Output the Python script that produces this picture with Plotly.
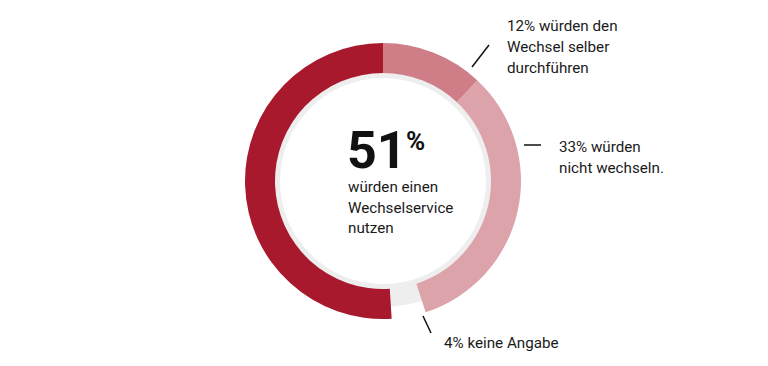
import plotly.graph_objects as go

W, H = 768, 366
OFF = 8  # page body margin offset of the figure inside the window

# data
labels = ["würden den Wechsel selber durchführen", "würden nicht wechseln.", "keine Angabe", "würden einen Wechselservice nutzen"]
values = [12, 33, 4, 51]
headline_value = "51"
center_lines = ["würden einen", "Wechselservice", "nutzen"]
label_12 = ["12% würden den", "Wechsel selber", "durchführen"]
label_33 = ["33% würden", "nicht wechseln."]
label_4 = ["4% keine Angabe"]

colors = ["#cf7e88", "#dda3aa", "rgba(0,0,0,0)", "#a8192e"]

cx, cy = 383, 181
R_out, R_in = 138, 108
G_out, G_in = 126, 103


def px(x):
    return (x - OFF) / W


def py(y):
    return 1 - (y - OFF) / H


def dom(r):
    return dict(x=[px(cx - r), px(cx + r)], y=[py(cy + r), py(cy - r)])


fig = go.Figure()
fig.add_trace(go.Pie(values=[1], labels=["bg"], hole=G_in / G_out, domain=dom(G_out),
                     marker=dict(colors=["#eeeeee"], line=dict(width=0)),
                     textinfo="none", hoverinfo="skip", sort=False, showlegend=False))
fig.add_trace(go.Pie(values=values, labels=labels, hole=R_in / R_out, domain=dom(R_out),
                     marker=dict(colors=colors, line=dict(width=0)),
                     direction="clockwise", sort=False, rotation=0,
                     textinfo="none", showlegend=False))

FONT = "Roboto"
TXT = "#1a1a1a"
FS = 15.2

ann = []
ann.append(dict(x=px(345), y=py(150), text=f"<b>{headline_value}</b>", showarrow=False,
                xanchor="left", yanchor="middle", height=40, valign="middle",
                font=dict(family=FONT, size=52, color="#111")))
ann.append(dict(x=px(404), y=py(141), text="<b>%</b>", showarrow=False,
                xanchor="left", yanchor="middle", height=20, valign="middle",
                font=dict(family=FONT, size=26, color="#111")))


def lines(x, y0, texts, step=20.5):
    for i, t in enumerate(texts):
        ann.append(dict(x=px(x), y=py(y0 + step * i), text=t, showarrow=False,
                        xanchor="left", yanchor="middle", font=dict(family=FONT, size=FS, color=TXT)))


lines(346, 187, center_lines, 20.5)
lines(505, 26, label_12, 21)
lines(557, 147, label_33, 21)
lines(442, 343, label_4)

shapes = [
    dict(type="line", xref="paper", yref="paper", x0=px(472), y0=py(67), x1=px(489), y1=py(45),
         line=dict(color="#111", width=1.5)),
    dict(type="line", xref="paper", yref="paper", x0=px(524), y0=py(145), x1=px(541), y1=py(145),
         line=dict(color="#111", width=1.5)),
    dict(type="line", xref="paper", yref="paper", x0=px(423), y0=py(316), x1=px(431), y1=py(333),
         line=dict(color="#111", width=1.5)),
]

fig.update_layout(width=W, height=H, margin=dict(l=0, r=0, t=0, b=0),
                  paper_bgcolor="white", plot_bgcolor="white",
                  annotations=ann, shapes=shapes, showlegend=False)

fig.write_html("out.html")
